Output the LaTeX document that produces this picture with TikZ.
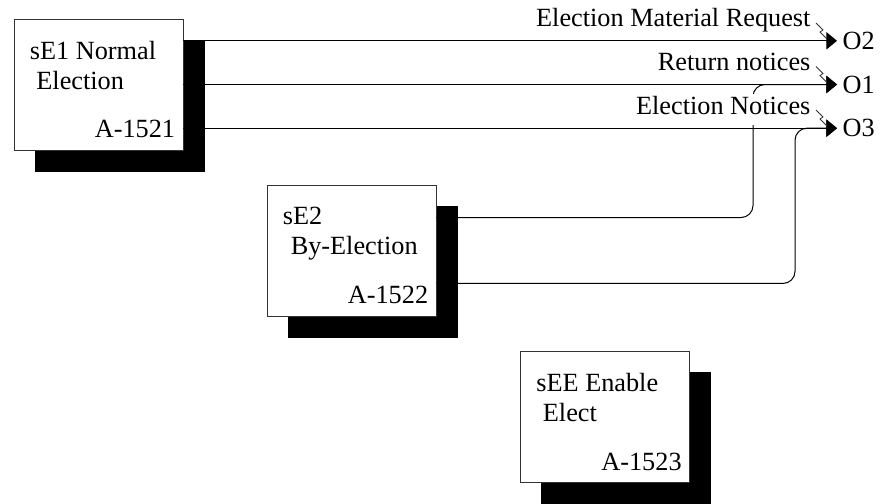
\documentclass[tikz,border=0pt]{standalone}
\usepackage{fontspec}
\setmainfont{Liberation Serif}
\usetikzlibrary{arrows.meta, shadows, calc}

\begin{document}
\begin{tikzpicture}[x=0.75pt, y=-0.75pt, font=\fontsize{19.7}{22.5}\selectfont, >={Triangle[length=8pt, width=13pt]},
box/.style={draw=black!80, fill=white, line width=0.6pt, minimum width=126.75pt, minimum height=98.25pt, copy shadow={fill=black, draw=black, shadow xshift=15.75pt, shadow yshift=-15.75pt}},
boxtitle/.style={anchor=north west, align=left, inner xsep=12pt, inner ysep=16.5pt},
boxnum/.style={anchor=south east, inner xsep=6pt, inner ysep=9pt},
flow/.style={->, line width=0.75pt},
outlabel/.style={anchor=base east, fill=white, inner sep=1pt, text depth=7pt},
outname/.style={anchor=west, inner xsep=4pt},
squiggle/.style={line width=0.6pt, draw=black!80}]
\useasboundingbox (0,0) rectangle (884,503);

% activity boxes
\node[box] (se1) at (98.5,84.5) {};
\node[boxtitle] at (se1.north west) {sE1 Normal\\\hspace{.25em}Election};
\node[boxnum] at (se1.south east) {A-1521};

\node[box] (se2) at (351.5,250.5) {};
\node[boxtitle] at (se2.north west) {sE2\\\hspace{.3em}By-Election};
\node[boxnum] at (se2.south east) {A-1522};

\node[box] (see) at (605,417) {};
\node[boxtitle] at (see.north west) {sEE Enable\\\hspace{.25em}Elect};
\node[boxnum] at (see.south east) {A-1523};

% outputs
\node[outname] (o2) at (837,40.8) {O2};
\node[outname] (o1) at (837,84.5) {O1};
\node[outname] (o3) at (837,128.2) {O3};

\draw[flow] (se1.east |- o2.west) -- (o2.west);
\draw[flow] (se1.east |- o1.west) -- (o1.west);
\draw[flow] (se1.east |- o3.west) -- (o3.west);

\coordinate (up1) at (753,0);
\coordinate (up2) at (795,0);
\draw[flow, rounded corners=9pt] ($(se2.north east)!.25!(se2.south east)$) -| (up1 |- o1.west) -- (o1.west);
\draw[flow, rounded corners=9pt] ($(se2.north east)!.75!(se2.south east)$) -| (up2 |- o3.west) -- (o3.west);

% arrow labels
\node[outlabel] (l2) at (812,27) {Election Material Request};
\node[outlabel] (l1) at (812,70.5) {Return notices};
\node[outlabel] (l3) at (812,114) {Election Notices};
\foreach \l in {l2,l1,l3}
  \draw[squiggle] ([shift={(4,-4)}]\l.base east) -- ++(7,7) -- ++(-3,2) -- ++(7,7);
\end{tikzpicture}
\end{document}
